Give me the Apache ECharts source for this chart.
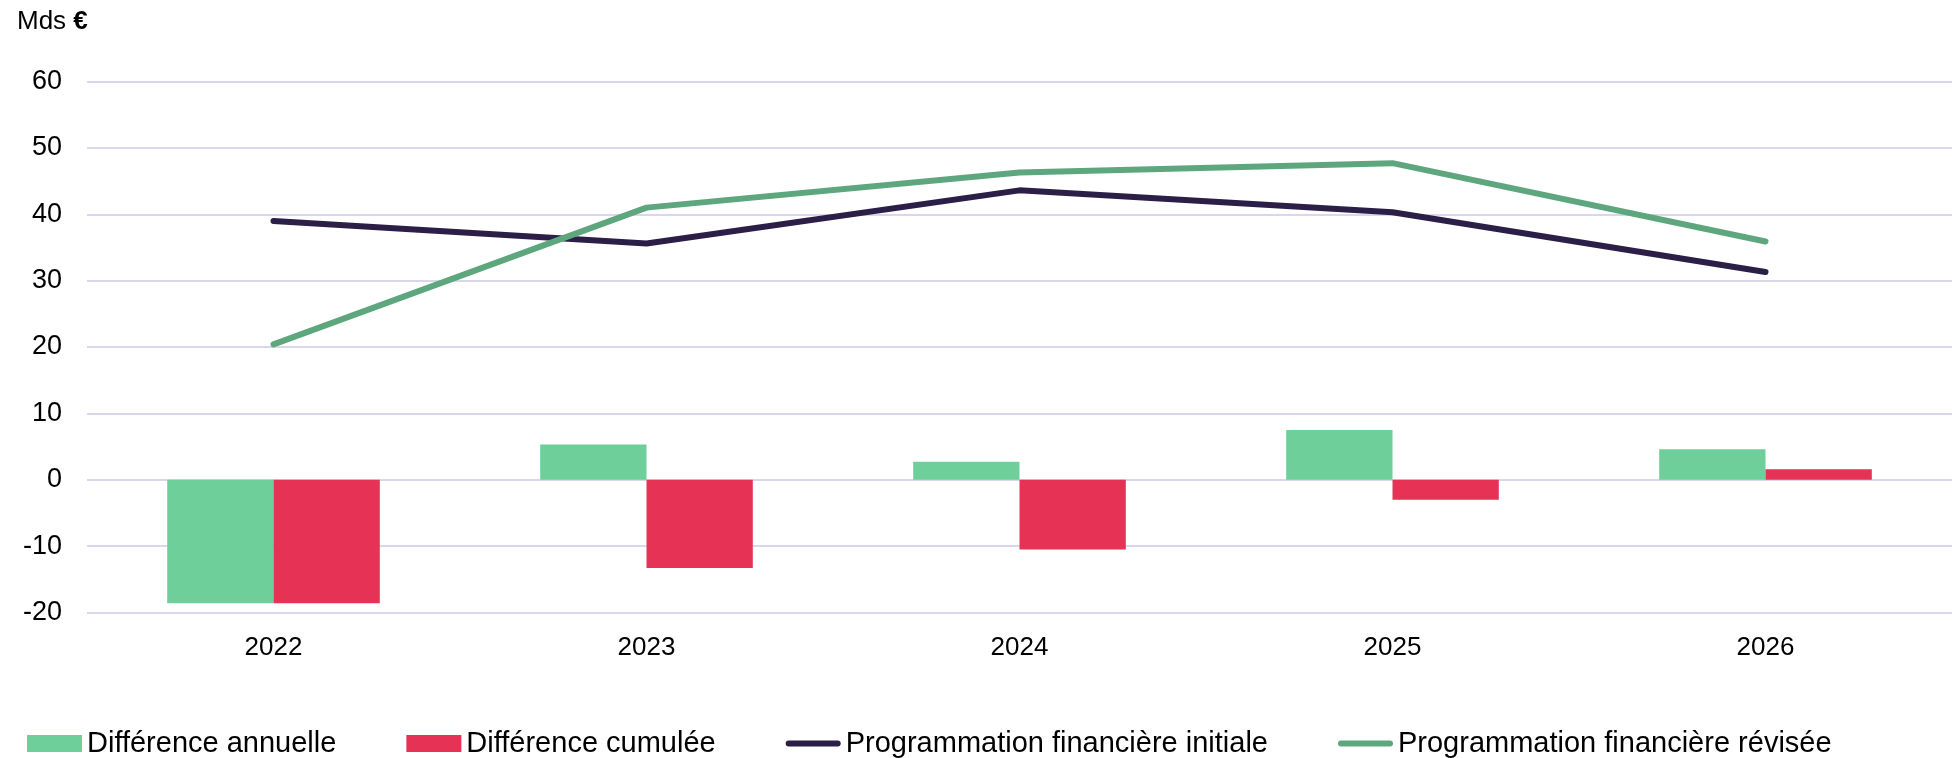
<!DOCTYPE html>
<html>
<head>
<meta charset="utf-8">
<script src="https://cdn.jsdelivr.net/npm/echarts@6/dist/echarts.min.js"></script>
<style>
  html, body { margin: 0; padding: 0; background: #fff; }
  #chart { width: 1952px; height: 758px; }
</style>
</head>
<body>
<div id="chart"></div>
<script>
// données (Mds €)
var annees = ['2022', '2023', '2024', '2025', '2026'];
var diffAnnuelle = [-18.6, 5.3, 2.7, 7.5, 4.6];
var diffCumulee = [-18.6, -13.3, -10.5, -3.0, 1.6];
var progInitiale = [39.0, 35.6, 43.6, 40.3, 31.3];
var progRevisee = [20.4, 41.0, 46.3, 47.7, 35.9];

var police = "'Liberation Sans', Arial, sans-serif";
// trait arrondi pour les icônes de légende des courbes
var iconeTrait = 'path://M3,0 L52,0 A3,3 0 0 1 52,6 L3,6 A3,3 0 0 1 3,0 Z';

var myChart = echarts.init(document.getElementById('chart'));
var option = {
    animation: false,
    textStyle: { fontFamily: police, color: '#000' },
    title: {
        left: 12,
        top: 4,
        text: 'Mds {b|€}',
        textStyle: {
            fontFamily: police,
            fontSize: 26,
            fontWeight: 'normal',
            color: '#000',
            rich: {
                b: { fontFamily: police, fontSize: 26, fontWeight: 'bold', color: '#000' }
            }
        }
    },
    legend: {
        left: 22,
        top: 724,
        itemWidth: 55,
        itemHeight: 17,
        itemGap: 70,
        textStyle: { fontFamily: police, fontSize: 29, color: '#000' },
        data: [
            { name: 'Différence annuelle', icon: 'rect' },
            { name: 'Différence cumulée', icon: 'rect' },
            { name: 'Programmation financière initiale', icon: iconeTrait },
            { name: 'Programmation financière révisée', icon: iconeTrait }
        ]
    },
    grid: {
        left: 87,
        right: 0,
        top: 81.5,
        bottom: 145.5
    },
    xAxis: {
        type: 'category',
        data: annees,
        axisLine: { show: false },
        axisTick: { show: false },
        axisLabel: { fontSize: 26, color: '#000', margin: 22, fontFamily: police }
    },
    yAxis: {
        type: 'value',
        min: -20,
        max: 60,
        interval: 10,
        axisLine: { show: false },
        axisTick: { show: false },
        axisLabel: { fontSize: 27, color: '#000', margin: 25, fontFamily: police },
        splitLine: { lineStyle: { color: '#DAD6EB', width: 2 } }
    },
    series: [
        {
            name: 'Différence annuelle',
            type: 'bar',
            data: diffAnnuelle,
            barGap: '0%',
            barCategoryGap: '43%',
            itemStyle: { color: '#6FCF9A' }
        },
        {
            name: 'Différence cumulée',
            type: 'bar',
            data: diffCumulee,
            barGap: '0%',
            barCategoryGap: '43%',
            itemStyle: { color: '#E63255' }
        },
        {
            name: 'Programmation financière initiale',
            type: 'line',
            data: progInitiale,
            symbol: 'none',
            z: 5,
            itemStyle: { color: '#2B1E47' },
            lineStyle: { color: '#2B1E47', width: 6, cap: 'round', join: 'round' }
        },
        {
            name: 'Programmation financière révisée',
            type: 'line',
            data: progRevisee,
            symbol: 'none',
            z: 6,
            itemStyle: { color: '#5EA77E' },
            lineStyle: { color: '#5EA77E', width: 6, cap: 'round', join: 'round' }
        }
    ]
};
myChart.setOption(option);
</script>
</body>
</html>
